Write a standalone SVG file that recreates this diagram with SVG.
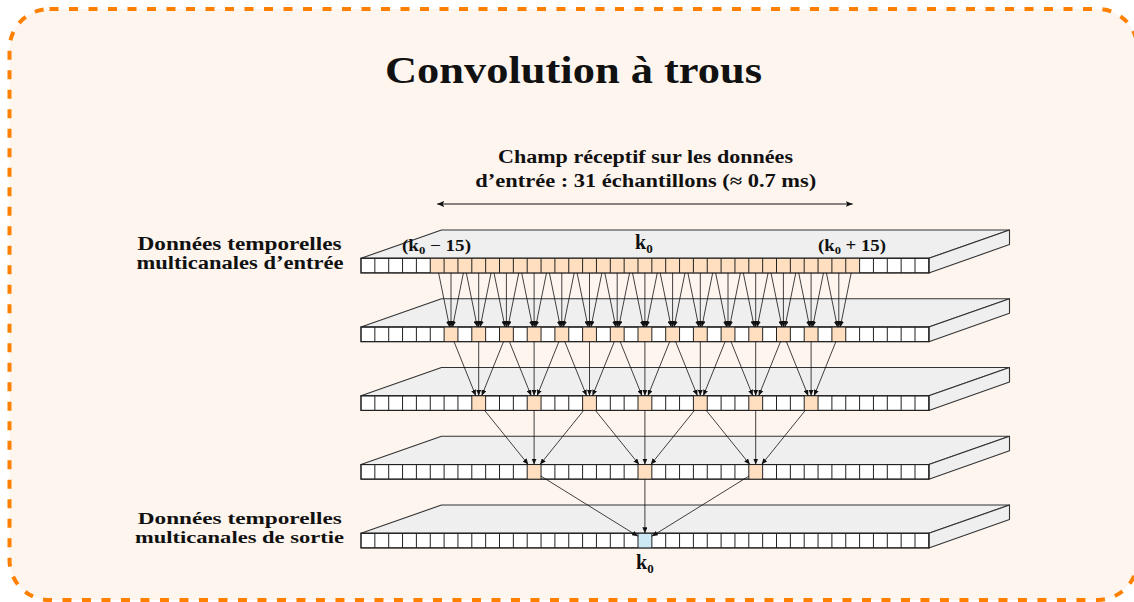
<svg xmlns="http://www.w3.org/2000/svg" xmlns:xlink="http://www.w3.org/1999/xlink" width="1134" height="602" viewBox="0 0 1134 602">
<style>
.t{font-family:"Liberation Serif","Times New Roman",serif;font-weight:bold;fill:#111}
.face{fill:#efefef;stroke:#333;stroke-width:1.1;stroke-linejoin:round}
.front{fill:#fff;stroke:#222;stroke-width:1.1}
.grid{fill:none;stroke:#222;stroke-width:1}
.hl{fill:#ffdfbf}
.out{fill:#cde9f6}
.conn line{stroke:#111;stroke-width:0.8;marker-end:url(#ah)}
</style>
<defs>
<marker id="ah" markerUnits="userSpaceOnUse" markerWidth="6" markerHeight="5" refX="6" refY="2.5" orient="auto">
<path d="M0,0 L6,2.5 L0,5 z" fill="#111"/>
</marker>
<marker id="ah2" markerUnits="userSpaceOnUse" markerWidth="7" markerHeight="6" refX="7" refY="3" orient="auto-start-reverse">
<path d="M0,0 L7,3 L0,6 L1.5,3 z" fill="#111"/>
</marker>
<g id="slab">
<polygon class="face" points="361,0 441.5,-28.3 1009.5,-28.3 928.85,0"/>
<polygon class="face" points="928.85,0 1009.5,-28.3 1009.5,-13.7 928.85,14.6"/>
<rect class="front" x="361" y="0" width="567.85" height="14.6"/>
</g>
<g id="grid">
<path class="grid" d="M374.85 0v14.6M388.7 0v14.6M402.55 0v14.6M416.4 0v14.6M430.25 0v14.6M444.1 0v14.6M457.95 0v14.6M471.8 0v14.6M485.65 0v14.6M499.5 0v14.6M513.35 0v14.6M527.2 0v14.6M541.05 0v14.6M554.9 0v14.6M568.75 0v14.6M582.6 0v14.6M596.45 0v14.6M610.3 0v14.6M624.15 0v14.6M638 0v14.6M651.85 0v14.6M665.7 0v14.6M679.55 0v14.6M693.4 0v14.6M707.25 0v14.6M721.1 0v14.6M734.95 0v14.6M748.8 0v14.6M762.65 0v14.6M776.5 0v14.6M790.35 0v14.6M804.2 0v14.6M818.05 0v14.6M831.9 0v14.6M845.75 0v14.6M859.6 0v14.6M873.45 0v14.6M887.3 0v14.6M901.15 0v14.6M915 0v14.6"/>
<rect class="grid" x="361" y="0" width="567.85" height="14.6"/>
</g>
</defs>

<rect x="0" y="0" width="1134" height="602" fill="#ffffff"/>
<rect id="frame" x="9.5" y="9" width="1128" height="591" rx="40" ry="40" fill="#fef5ef" stroke="#ff8000" stroke-width="4" stroke-dasharray="9,10.5"/>

<text id="title" class="t" x="573.5" y="82.5" font-size="38" text-anchor="middle" textLength="377" lengthAdjust="spacingAndGlyphs">Convolution à trous</text>

<g id="rf-label">
<text class="t" x="645.5" y="163.3" font-size="18" text-anchor="middle" textLength="295" lengthAdjust="spacingAndGlyphs">Champ réceptif sur les données</text>
<text class="t" x="645.8" y="186.7" font-size="18" text-anchor="middle" textLength="341" lengthAdjust="spacingAndGlyphs">d’entrée : 31 échantillons (≈ 0.7 ms)</text>
<line x1="437.2" y1="204" x2="852.7" y2="204" stroke="#111" stroke-width="1.2" marker-start="url(#ah2)" marker-end="url(#ah2)"/>
</g>

<g id="input-label">
<text class="t" x="239.5" y="249.7" font-size="18" text-anchor="middle" textLength="204" lengthAdjust="spacingAndGlyphs">Données temporelles</text>
<text class="t" x="240" y="268.7" font-size="18" text-anchor="middle" textLength="207" lengthAdjust="spacingAndGlyphs">multicanales d’entrée</text>
</g>
<g id="output-label">
<text class="t" x="239.8" y="524.2" font-size="17.5" text-anchor="middle" textLength="204" lengthAdjust="spacingAndGlyphs">Données temporelles</text>
<text class="t" x="239.5" y="543.2" font-size="17.5" text-anchor="middle" textLength="209" lengthAdjust="spacingAndGlyphs">multicanales de sortie</text>
</g>

<g id="layer1">
<use xlink:href="#slab" href="#slab" y="258.3"/>
<rect class="hl" x="430.25" y="258.3" width="429.35" height="14.6"/>
<use xlink:href="#grid" href="#grid" y="258.3"/>
<text class="t" x="402" y="250.7" font-size="16.5" textLength="69" lengthAdjust="spacingAndGlyphs">(k<tspan font-size="11" dy="3">0</tspan><tspan dy="-3"> − 15)</tspan></text>
<text class="t" x="635" y="249" font-size="20">k<tspan font-size="13" dy="4">0</tspan></text>
<text class="t" x="818" y="250.7" font-size="16.5" textLength="68" lengthAdjust="spacingAndGlyphs">(k<tspan font-size="11" dy="3">0</tspan><tspan dy="-3"> + 15)</tspan></text>
</g>

<g id="layer2">
<use xlink:href="#slab" href="#slab" y="327.05"/>
<g class="hl">
<rect x="444.1" y="327.05" width="13.85" height="14.6"/>
<rect x="471.8" y="327.05" width="13.85" height="14.6"/>
<rect x="499.5" y="327.05" width="13.85" height="14.6"/>
<rect x="527.2" y="327.05" width="13.85" height="14.6"/>
<rect x="554.9" y="327.05" width="13.85" height="14.6"/>
<rect x="582.6" y="327.05" width="13.85" height="14.6"/>
<rect x="610.3" y="327.05" width="13.85" height="14.6"/>
<rect x="638" y="327.05" width="13.85" height="14.6"/>
<rect x="665.7" y="327.05" width="13.85" height="14.6"/>
<rect x="693.4" y="327.05" width="13.85" height="14.6"/>
<rect x="721.1" y="327.05" width="13.85" height="14.6"/>
<rect x="748.8" y="327.05" width="13.85" height="14.6"/>
<rect x="776.5" y="327.05" width="13.85" height="14.6"/>
<rect x="804.2" y="327.05" width="13.85" height="14.6"/>
<rect x="831.9" y="327.05" width="13.85" height="14.6"/>
</g>
<use xlink:href="#grid" href="#grid" y="327.05"/>
</g>

<g id="layer3">
<use xlink:href="#slab" href="#slab" y="395.8"/>
<g class="hl">
<rect x="471.8" y="395.8" width="13.85" height="14.6"/>
<rect x="527.2" y="395.8" width="13.85" height="14.6"/>
<rect x="582.6" y="395.8" width="13.85" height="14.6"/>
<rect x="638" y="395.8" width="13.85" height="14.6"/>
<rect x="693.4" y="395.8" width="13.85" height="14.6"/>
<rect x="748.8" y="395.8" width="13.85" height="14.6"/>
<rect x="804.2" y="395.8" width="13.85" height="14.6"/>
</g>
<use xlink:href="#grid" href="#grid" y="395.8"/>
</g>

<g id="layer4">
<use xlink:href="#slab" href="#slab" y="464.55"/>
<g class="hl">
<rect x="527.2" y="464.55" width="13.85" height="14.6"/>
<rect x="638" y="464.55" width="13.85" height="14.6"/>
<rect x="748.8" y="464.55" width="13.85" height="14.6"/>
</g>
<use xlink:href="#grid" href="#grid" y="464.55"/>
</g>

<g id="layer5">
<use xlink:href="#slab" href="#slab" y="533.3"/>
<rect class="out" x="638" y="533.3" width="13.85" height="14.6"/>
<use xlink:href="#grid" href="#grid" y="533.3"/>
<text class="t" x="636" y="569" font-size="20">k<tspan font-size="13" dy="4">0</tspan></text>
</g>

<g id="connectors" class="conn">
<line x1="438.6" y1="272.9" x2="449.6" y2="327.05"/><line x1="451.0" y1="272.9" x2="451.0" y2="327.05"/><line x1="463.4" y1="272.9" x2="452.5" y2="327.05"/>
<line x1="466.3" y1="272.9" x2="477.3" y2="327.05"/><line x1="478.7" y1="272.9" x2="478.7" y2="327.05"/><line x1="491.1" y1="272.9" x2="480.2" y2="327.05"/>
<line x1="494.0" y1="272.9" x2="505.0" y2="327.05"/><line x1="506.4" y1="272.9" x2="506.4" y2="327.05"/><line x1="518.8" y1="272.9" x2="507.9" y2="327.05"/>
<line x1="521.7" y1="272.9" x2="532.7" y2="327.05"/><line x1="534.1" y1="272.9" x2="534.1" y2="327.05"/><line x1="546.5" y1="272.9" x2="535.6" y2="327.05"/>
<line x1="549.4" y1="272.9" x2="560.4" y2="327.05"/><line x1="561.8" y1="272.9" x2="561.8" y2="327.05"/><line x1="574.2" y1="272.9" x2="563.3" y2="327.05"/>
<line x1="577.1" y1="272.9" x2="588.1" y2="327.05"/><line x1="589.5" y1="272.9" x2="589.5" y2="327.05"/><line x1="601.9" y1="272.9" x2="591.0" y2="327.05"/>
<line x1="604.8" y1="272.9" x2="615.8" y2="327.05"/><line x1="617.2" y1="272.9" x2="617.2" y2="327.05"/><line x1="629.6" y1="272.9" x2="618.7" y2="327.05"/>
<line x1="632.5" y1="272.9" x2="643.5" y2="327.05"/><line x1="644.9" y1="272.9" x2="644.9" y2="327.05"/><line x1="657.3" y1="272.9" x2="646.4" y2="327.05"/>
<line x1="660.2" y1="272.9" x2="671.2" y2="327.05"/><line x1="672.6" y1="272.9" x2="672.6" y2="327.05"/><line x1="685.0" y1="272.9" x2="674.1" y2="327.05"/>
<line x1="687.9" y1="272.9" x2="698.9" y2="327.05"/><line x1="700.3" y1="272.9" x2="700.3" y2="327.05"/><line x1="712.7" y1="272.9" x2="701.8" y2="327.05"/>
<line x1="715.6" y1="272.9" x2="726.6" y2="327.05"/><line x1="728.0" y1="272.9" x2="728.0" y2="327.05"/><line x1="740.4" y1="272.9" x2="729.5" y2="327.05"/>
<line x1="743.3" y1="272.9" x2="754.3" y2="327.05"/><line x1="755.7" y1="272.9" x2="755.7" y2="327.05"/><line x1="768.1" y1="272.9" x2="757.2" y2="327.05"/>
<line x1="771.0" y1="272.9" x2="782.0" y2="327.05"/><line x1="783.4" y1="272.9" x2="783.4" y2="327.05"/><line x1="795.8" y1="272.9" x2="784.9" y2="327.05"/>
<line x1="798.7" y1="272.9" x2="809.7" y2="327.05"/><line x1="811.1" y1="272.9" x2="811.1" y2="327.05"/><line x1="823.5" y1="272.9" x2="812.6" y2="327.05"/>
<line x1="826.4" y1="272.9" x2="837.4" y2="327.05"/><line x1="838.8" y1="272.9" x2="838.8" y2="327.05"/><line x1="851.2" y1="272.9" x2="840.3" y2="327.05"/>
<line x1="454.0" y1="341.65" x2="475.8" y2="395.8"/><line x1="478.7" y1="341.65" x2="478.7" y2="395.8"/><line x1="503.5" y1="341.65" x2="481.7" y2="395.8"/>
<line x1="509.4" y1="341.65" x2="531.2" y2="395.8"/><line x1="534.1" y1="341.65" x2="534.1" y2="395.8"/><line x1="558.9" y1="341.65" x2="537.1" y2="395.8"/>
<line x1="564.8" y1="341.65" x2="586.6" y2="395.8"/><line x1="589.5" y1="341.65" x2="589.5" y2="395.8"/><line x1="614.3" y1="341.65" x2="592.5" y2="395.8"/>
<line x1="620.2" y1="341.65" x2="642.0" y2="395.8"/><line x1="644.9" y1="341.65" x2="644.9" y2="395.8"/><line x1="669.7" y1="341.65" x2="647.9" y2="395.8"/>
<line x1="675.6" y1="341.65" x2="697.4" y2="395.8"/><line x1="700.3" y1="341.65" x2="700.3" y2="395.8"/><line x1="725.1" y1="341.65" x2="703.3" y2="395.8"/>
<line x1="731.0" y1="341.65" x2="752.8" y2="395.8"/><line x1="755.7" y1="341.65" x2="755.7" y2="395.8"/><line x1="780.5" y1="341.65" x2="758.7" y2="395.8"/>
<line x1="786.4" y1="341.65" x2="808.2" y2="395.8"/><line x1="811.1" y1="341.65" x2="811.1" y2="395.8"/><line x1="835.9" y1="341.65" x2="814.1" y2="395.8"/>
<line x1="484.6" y1="410.4" x2="528.3" y2="464.55"/><line x1="534.1" y1="410.4" x2="534.1" y2="464.55"/><line x1="583.7" y1="410.4" x2="540.0" y2="464.55"/>
<line x1="595.4" y1="410.4" x2="639.1" y2="464.55"/><line x1="644.9" y1="410.4" x2="644.9" y2="464.55"/><line x1="694.5" y1="410.4" x2="650.8" y2="464.55"/>
<line x1="706.2" y1="410.4" x2="749.9" y2="464.55"/><line x1="755.7" y1="410.4" x2="755.7" y2="464.55"/><line x1="805.3" y1="410.4" x2="761.6" y2="464.55"/>
<line x1="541.05" y1="476.15" x2="638.0" y2="536.3"/><line x1="644.9" y1="479.15" x2="644.9" y2="533.3"/><line x1="748.8" y1="476.15" x2="651.85" y2="536.3"/>
</g>
</svg>
